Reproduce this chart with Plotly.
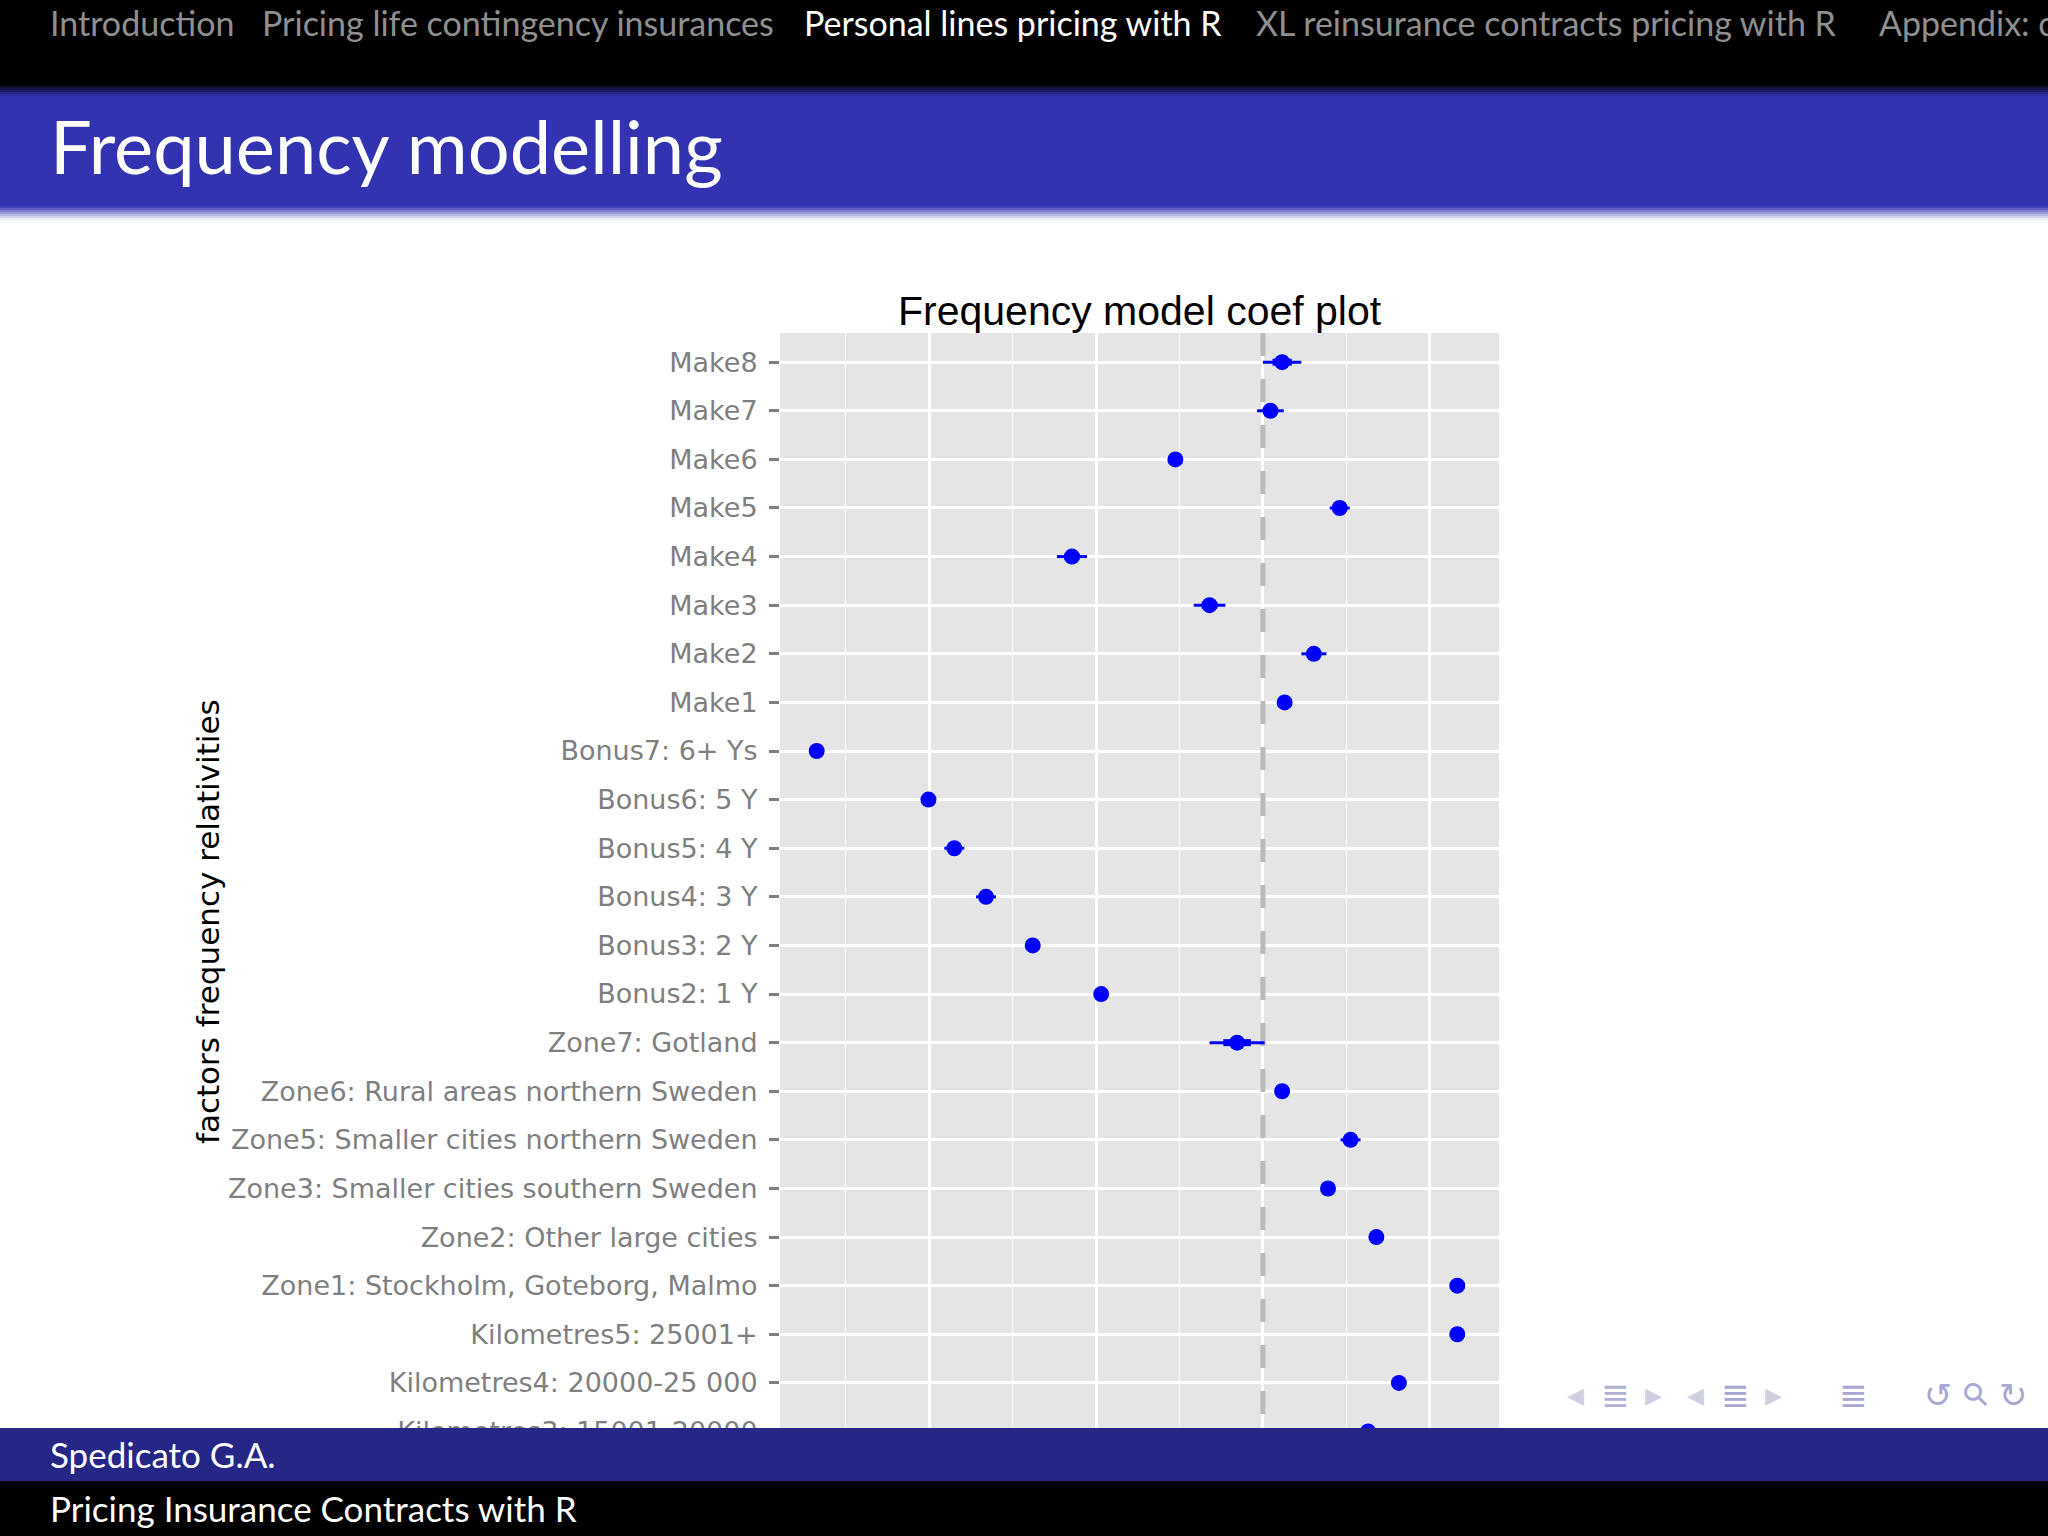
import plotly.graph_objects as go

# ---------------- data ----------------
categories = [
    "Make8", "Make7", "Make6", "Make5", "Make4", "Make3", "Make2", "Make1",
    "Bonus7: 6+ Ys", "Bonus6: 5 Y", "Bonus5: 4 Y", "Bonus4: 3 Y",
    "Bonus3: 2 Y", "Bonus2: 1 Y",
    "Zone7: Gotland", "Zone6: Rural areas northern Sweden",
    "Zone5: Smaller cities northern Sweden",
    "Zone3: Smaller cities southern Sweden", "Zone2: Other large cities",
    "Zone1: Stockholm, Goteborg, Malmo",
    "Kilometres5: 25001+", "Kilometres4: 20000-25 000",
    "Kilometres3: 15001-20000",
]
relativity = [
    1.023, 1.009, 0.895, 1.092, 0.771, 0.936, 1.061, 1.026,
    0.465, 0.599, 0.630, 0.668, 0.724, 0.806,
    0.969, 1.023, 1.105, 1.078, 1.136, 1.233,
    1.233, 1.163, 1.126,
]
std_error = [
    0.0115, 0.008, 0.004, 0.006, 0.009, 0.0095, 0.0075, 0.004,
    0.003, 0.004, 0.006, 0.006, 0.004, 0.004,
    0.0165, 0.004, 0.006, 0.004, 0.004, 0.004,
    0.004, 0.004, 0.004,
]
reference_value = 1.0
x_range = [0.421, 1.283]
x_major_ticks = [0.4, 0.6, 0.8, 1.0, 1.2]
x_minor_ticks = [0.5, 0.7, 0.9, 1.1]

chart_title = "Frequency model coef plot"
y_title = "factors frequency relativities"
slide_title = "Frequency modelling"
nav_sections = ["Introduction", "Pricing life contingency insurances",
                "Personal lines pricing with R",
                "XL reinsurance contracts pricing with R", "Appendix: code"]
current_section = "Personal lines pricing with R"
footer_author = "Spedicato G.A."
footer_title = "Pricing Insurance Contracts with R"

# ---------------- geometry helpers ----------------
W, H = 2048, 1536
L, R, T, B = 780, 549, 333, 0
PW, PH = W - L - R, H - T - B


def px(x):
    return (x - L) / PW


def py(y):
    return (H - B - y) / PH


n = len(categories)
y_lo, y_hi = -0.6, n - 1 + 2.15

inner = [s for s in std_error]
outer = [2 * s for s in std_error]

fig = go.Figure()
fig.add_trace(go.Scatter(
    x=relativity, y=categories, mode="markers",
    marker=dict(size=0.1, color="rgba(0,0,255,0)"),
    error_x=dict(type="data", array=outer, visible=True, width=0,
                 thickness=3, color="#0000FF"),
    hoverinfo="skip", showlegend=False))
fig.add_trace(go.Scatter(
    x=relativity, y=categories, mode="markers",
    marker=dict(size=0.1, color="rgba(0,0,255,0)"),
    error_x=dict(type="data", array=inner, visible=True, width=0,
                 thickness=7, color="#0000FF"),
    hoverinfo="skip", showlegend=False))
fig.add_trace(go.Scatter(
    x=relativity, y=categories, mode="markers",
    marker=dict(size=16, color="#0000FF", symbol="circle"),
    showlegend=False))

shapes = []
# vertical reference line (above gridlines, below the points)
shapes.append(dict(type="line", xref="x", yref="y",
                   x0=reference_value, x1=reference_value, y0=y_lo, y1=y_hi,
                   line=dict(color="#BABABA", width=5, dash="23px,23px"),
                   layer="between"))


def rect(y0, y1, color, layer="above", x0=0, x1=W):
    shapes.append(dict(type="rect", xref="paper", yref="paper",
                       x0=px(x0), x1=px(x1), y0=py(y1), y1=py(y0),
                       fillcolor=color, line=dict(width=0), layer=layer))


def mix(c1, c2, t):
    return "rgb(%d,%d,%d)" % tuple(round(a + (b - a) * t) for a, b in zip(c1, c2))


BLUE = (51, 51, 178)
BLACK = (0, 0, 0)
WHITE = (255, 255, 255)
# header
rect(0, 84, "black")
for i in range(6):
    rect(84 + 2 * i, 86 + 2 * i, mix(BLACK, BLUE, (i + 0.5) / 6))
rect(96, 206, "rgb(51,51,178)")
for i in range(7):
    rect(206 + 2 * i, 208 + 2 * i, mix(BLUE, WHITE, (i + 0.5) / 7))
# footer
rect(1428, 1481, "rgb(38,38,134)")
rect(1481, H, "black")

annotations = []
nav_x = [48, 260, 802, 1254, 1877]
for name, x in zip(nav_sections, nav_x):
    annotations.append(dict(
        text=name, xref="paper", yref="paper", x=px(x), y=py(22),
        xanchor="left", yanchor="middle", showarrow=False,
        font=dict(family="Lato", size=34,
                  color="white" if name == current_section else "#8F8F8F")))
annotations.append(dict(
    text=slide_title, xref="paper", yref="paper", x=px(48), y=py(145),
    xanchor="left", yanchor="middle", showarrow=False,
    font=dict(family="Lato", size=74, color="white")))
annotations.append(dict(
    text=footer_author, xref="paper", yref="paper", x=px(48), y=py(1454),
    xanchor="left", yanchor="middle", showarrow=False,
    font=dict(family="Lato", size=35, color="white")))
annotations.append(dict(
    text=footer_title, xref="paper", yref="paper", x=px(48), y=py(1508),
    xanchor="left", yanchor="middle", showarrow=False,
    font=dict(family="Lato", size=35, color="white")))
annotations.append(dict(
    text=chart_title, xref="paper", yref="paper", x=0.5, y=py(311),
    xanchor="center", yanchor="middle", showarrow=False,
    font=dict(family="Liberation Sans", size=41, color="black")))
annotations.append(dict(
    text=y_title, xref="paper", yref="paper", x=px(208), y=py(922),
    xanchor="center", yanchor="middle", showarrow=False, textangle=-90,
    font=dict(family="DejaVu Sans", size=31, color="black")))

# beamer navigation symbols
nav_icons = [("◀", 1575, "#CFCFE0", 22, 0), ("≣", 1615, "#B0B0D6", 34, 0),
             ("▶", 1653, "#CFCFE0", 22, 0),
             ("◀", 1695, "#CFCFE0", 22, 0), ("≣", 1735, "#A8A8D2", 34, 0),
             ("▶", 1773, "#CFCFE0", 22, 0),
             ("≣", 1853, "#A8A8D2", 34, 0), ("↺", 1938, "#A8A8D2", 34, 0),
             ("⚲", 1975, "#A8A8D2", 32, -45), ("↻", 2013, "#A8A8D2", 34, 0)]
for ch, x, col, size, ang in nav_icons:
    annotations.append(dict(
        text=ch, xref="paper", yref="paper", x=px(x), y=py(1395),
        xanchor="center", yanchor="middle", showarrow=False, textangle=ang,
        font=dict(family="DejaVu Sans", size=size, color=col)))

fig.update_layout(
    width=W, height=H,
    margin=dict(l=L, r=R, t=T, b=B, pad=0),
    paper_bgcolor="white", plot_bgcolor="#E5E5E5",
    shapes=shapes, annotations=annotations,
    showlegend=False,
    xaxis=dict(range=x_range, tickvals=x_major_ticks, showticklabels=False,
               ticks="", showgrid=True, gridcolor="white", gridwidth=2.5,
               zeroline=False, showline=False,
               minor=dict(tickvals=x_minor_ticks, showgrid=True,
                          gridcolor="white", gridwidth=1.3)),
    yaxis=dict(type="category", categoryorder="array", categoryarray=categories,
               range=[y_hi, y_lo],
               showgrid=True, gridcolor="white", gridwidth=2.5,
               ticks="outside", ticklen=10, tickwidth=2.5, tickcolor="#7F7F7F",
               ticklabelstandoff=6,
               tickfont=dict(family="DejaVu Sans", size=27, color="#7F7F7F"),
               zeroline=False, showline=False),
)

fig.write_html("out.html", config={"displayModeBar": False},
               post_script="document.body.style.margin='0px';")
